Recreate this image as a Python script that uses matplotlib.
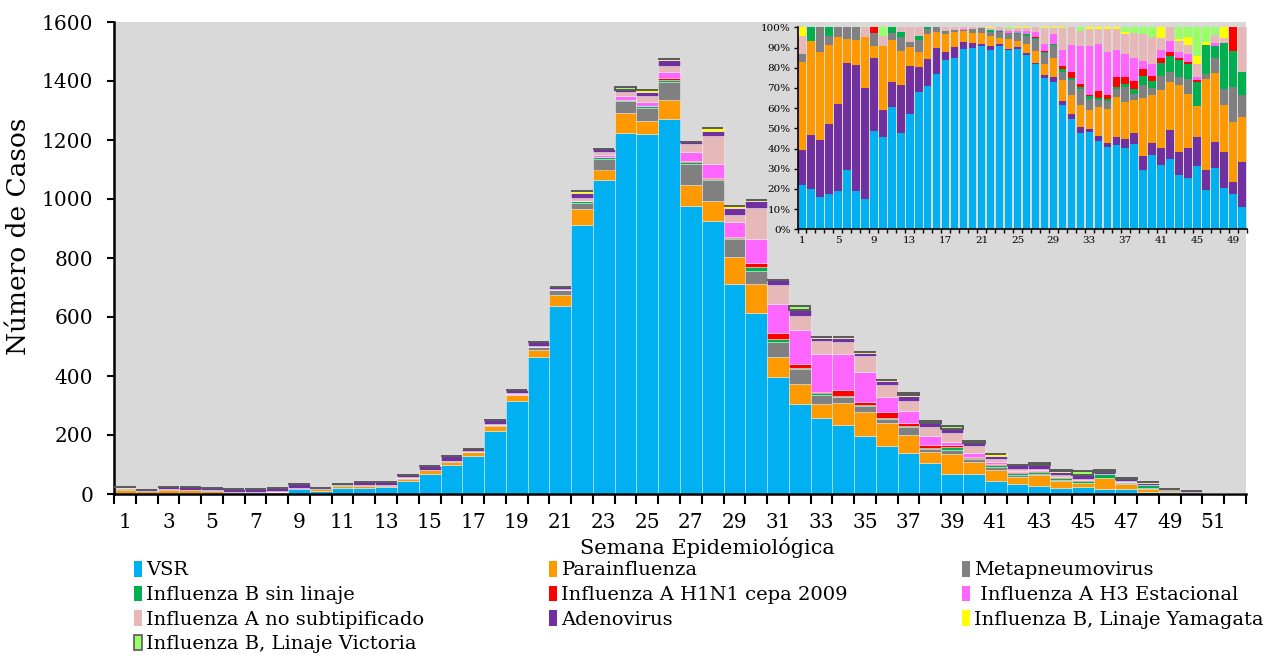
import numpy as np
import matplotlib
matplotlib.use('Agg')
import matplotlib.pyplot as plt
from matplotlib.patches import Patch

plt.rcParams['font.family'] = ['DejaVu Serif']

weeks = list(range(1, 53))

vsr = [5, 3, 4, 4, 4, 5, 3, 3, 16, 10, 20, 20, 24, 45, 68, 100, 128, 214, 315, 463,
       636, 913, 1065, 1223, 1219, 1271, 976, 927, 711, 612, 396, 304, 257, 233, 196, 162,
       138, 104, 67, 67, 43, 35, 28, 21, 24, 16, 16, 8, 3, 1, 0, 0]
parainfluenza = [10, 7, 11, 9, 7, 2, 2, 5, 2, 7, 7, 7, 4, 5, 12, 10, 14, 18, 19, 24,
                 38, 52, 35, 68, 44, 63, 71, 67, 92, 101, 67, 68, 49, 77, 81, 77,
                 63, 40, 67, 43, 39, 24, 35, 22, 12, 37, 18, 9, 5, 2, 0, 0]
metapneumo = [1, 0, 3, 1, 1, 1, 1, 0, 2, 0, 1, 3, 1, 4, 2, 3, 2, 3, 2, 11,
              16, 20, 34, 40, 46, 62, 72, 69, 61, 42, 53, 52, 29, 18, 21, 15,
              25, 8, 14, 7, 9, 5, 4, 6, 0, 2, 4, 3, 3, 1, 0, 0]
infb_sin_linaje = [0, 1, 0, 1, 0, 0, 0, 0, 0, 0, 1, 1, 0, 1, 1, 0, 0, 0, 0, 0,
                   0, 7, 8, 6, 5, 9, 5, 4, 4, 15, 9, 4, 9, 5, 3, 4,
                   4, 5, 11, 6, 9, 8, 9, 6, 9, 12, 3, 9, 3, 1, 0, 0]
h1n1 = [0, 0, 0, 0, 0, 0, 0, 0, 1, 0, 0, 0, 0, 0, 0, 0, 0, 0, 0, 0,
        0, 0, 0, 0, 0, 5, 4, 5, 2, 14, 22, 11, 3, 20, 10, 19,
        12, 10, 8, 4, 3, 2, 1, 1, 1, 0, 0, 0, 2, 0, 0, 0]
h3 = [0, 0, 0, 0, 0, 0, 0, 0, 0, 0, 0, 0, 0, 0, 0, 0, 0, 0, 2, 0,
      0, 2, 6, 12, 14, 20, 33, 46, 51, 80, 96, 118, 129, 123, 104, 51,
      39, 29, 9, 11, 6, 5, 3, 3, 1, 0, 1, 0, 0, 0, 0, 0]
a_no_subtip = [2, 0, 0, 0, 0, 0, 0, 1, 0, 1, 0, 1, 3, 3, 0, 0, 3, 3, 3, 4,
               4, 8, 13, 14, 21, 22, 25, 95, 25, 106, 64, 48, 44, 39, 53, 40,
               34, 30, 30, 24, 8, 7, 6, 4, 5, 0, 2, 1, 0, 2, 0, 0]
adenovirus = [4, 4, 7, 8, 9, 9, 10, 11, 12, 3, 4, 10, 10, 8, 13, 17, 6, 14, 12, 14,
              8, 20, 10, 8, 14, 20, 6, 19, 24, 23, 19, 19, 8, 13, 9, 14,
              16, 14, 16, 10, 12, 14, 12, 12, 11, 8, 7, 7, 1, 2, 0, 0]
yamagata = [1, 0, 0, 0, 0, 0, 0, 0, 0, 0, 0, 0, 0, 0, 0, 0, 0, 0, 0, 0,
            0, 6, 0, 0, 5, 4, 0, 7, 5, 5, 0, 0, 5, 5, 5, 4,
            4, 0, 0, 0, 7, 0, 1, 3, 3, 1, 0, 2, 0, 0, 0, 0]
victoria = [0, 0, 0, 0, 0, 0, 0, 0, 0, 1, 0, 0, 0, 0, 0, 0, 0, 0, 0, 0,
            0, 0, 0, 10, 0, 0, 0, 0, 0, 0, 0, 12, 0, 0, 0, 0,
            8, 7, 8, 9, 0, 0, 6, 4, 11, 6, 2, 0, 0, 0, 0, 0]

names = ['VSR', 'Parainfluenza', 'Metapneumovirus', 'Influenza B sin linaje',
         'Influenza A H1N1 cepa 2009', ' Influenza A H3 Estacional',
         'Influenza A no subtipificado', 'Adenovirus', 'Influenza B, Linaje Yamagata',
         'Influenza B, Linaje Victoria']
colors = ['#00B0F0', '#FF9900', '#808080', '#00B050', '#FF0000', '#FF66FF',
          '#E6B9B8', '#7030A0', '#FFFF00', '#99FF66']
data = [vsr, parainfluenza, metapneumo, infb_sin_linaje, h1n1, h3, a_no_subtip,
        adenovirus, yamagata, victoria]

inset_weeks = 50
inset_order = [0, 7, 1, 2, 3, 4, 5, 6, 8, 9]

W, H = 1272, 655
fig = plt.figure(figsize=(W / 100, H / 100), dpi=100)
bg = '#D9D9D9'

ax = fig.add_axes([114 / W, 1 - 494 / H, (1246 - 114) / W, (494 - 22) / H])
ax.set_facecolor(bg)
x = np.array(weeks)
bottom = np.zeros(len(weeks))
for i, (vals, c) in enumerate(zip(data, colors)):
    v = np.array(vals, dtype=float)
    if i == 9:
        ax.bar(x, v, width=0.98, bottom=bottom, color=c, edgecolor='#595959',
               linewidth=1.4, zorder=3)
    else:
        ax.bar(x, v, width=1.0, bottom=bottom, color=c, edgecolor=(1, 1, 1, 0.45),
               linewidth=0.6, zorder=2)
    bottom += v

ax.set_xlim(0.5, 52.5)
ax.set_ylim(0, 1600)
ax.set_yticks(range(0, 1601, 200))
ax.set_xticks(range(1, 53, 2))
ax.set_xticks(np.arange(0.5, 53, 1), minor=True)
ax.tick_params(axis='x', which='major', length=0, labelsize=14.5, pad=14)
ax.tick_params(axis='x', which='minor', length=7, width=1.5, color='black')
ax.tick_params(axis='y', length=5, width=1.5, labelsize=14.5, pad=10)
for s in ['top', 'right']:
    ax.spines[s].set_visible(False)
for s in ['left', 'bottom']:
    ax.spines[s].set_linewidth(1.8)

fig.text(707 / W, 1 - 548 / H, 'Semana Epidemiológica', ha='center', va='center', fontsize=15)
fig.text(19 / W, 1 - 236 / H, 'Número de Casos', ha='center', va='center',
         rotation=90, fontsize=19)

# inset percentage chart
ax2 = fig.add_axes([797.5 / W, 1 - 229.3 / H, (1246.5 - 797.5) / W, (229.3 - 27.3) / H])
ax2.set_facecolor(bg)
xi = np.arange(1, inset_weeks + 1)
mat = np.array([np.array(d[:inset_weeks], dtype=float) for d in data])
tot = mat.sum(axis=0)
pct = mat / tot
b2 = np.zeros(inset_weeks)
for idx in inset_order:
    ax2.bar(xi, pct[idx], width=0.84, bottom=b2, color=colors[idx], linewidth=0)
    b2 += pct[idx]
ax2.set_xlim(0.5, inset_weeks + 0.5)
ax2.set_ylim(0, 1)
ax2.set_yticks(np.arange(0, 1.01, 0.1))
ax2.set_yticklabels([f'{int(round(t * 100))}%' for t in np.arange(0, 1.01, 0.1)])
ax2.set_xticks(range(1, inset_weeks + 1, 4))
ax2.set_xticks(np.arange(0.5, inset_weeks + 1, 1), minor=True)
ax2.tick_params(axis='x', which='major', length=0, labelsize=7.5, pad=5)
ax2.tick_params(axis='x', which='minor', length=3, width=1)
ax2.tick_params(axis='y', length=3, width=1, labelsize=7.5, pad=2)
for s in ['top', 'right']:
    ax2.spines[s].set_visible(False)
for s in ['left', 'bottom']:
    ax2.spines[s].set_linewidth(1.2)

# legend: three columns, filled row by row
handles = []
for i in range(10):
    if i == 9:
        handles.append(Patch(facecolor=colors[i], edgecolor='#595959', linewidth=1.2))
    else:
        handles.append(Patch(facecolor=colors[i], edgecolor='none'))
columns = [[0, 3, 6, 9], [1, 4, 7], [2, 5, 8]]
col_x = [134, 549, 962]
for cx, col in zip(col_x, columns):
    leg = fig.legend([handles[i] for i in col], [names[i] for i in col], ncol=1,
                     loc='upper left', bbox_to_anchor=(cx / W, 1 - 561 / H), frameon=False,
                     fontsize=14, handlelength=0.42, handleheight=0.85, handletextpad=0.22,
                     labelspacing=0.31, borderpad=0, borderaxespad=0)

fig.savefig('out.png', dpi=100, facecolor='white')
